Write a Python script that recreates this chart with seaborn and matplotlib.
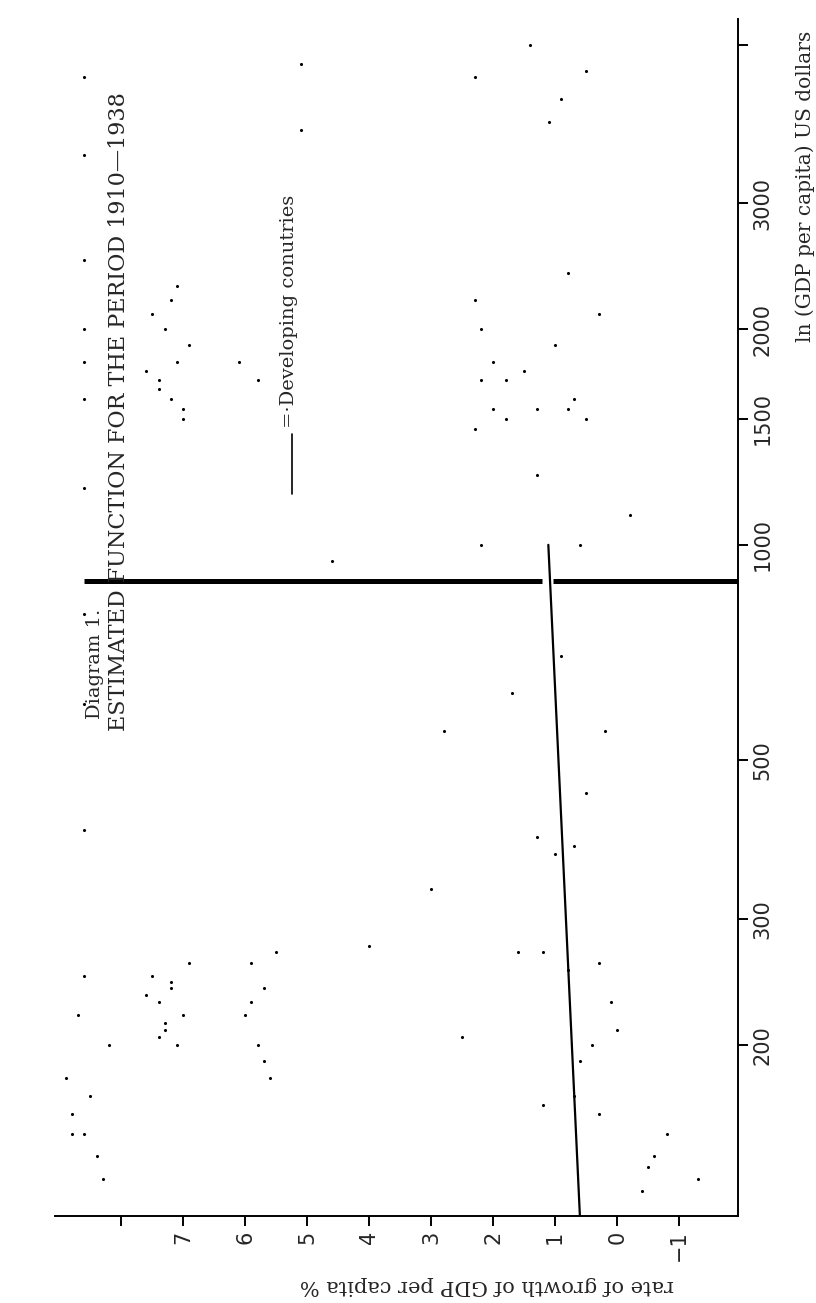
import numpy as np
import matplotlib
matplotlib.use("Agg")
import matplotlib.pyplot as plt
import seaborn as sns

# ---------------- data ----------------
# estimated function (growth % vs GDP per capita, log scale)
line_gdp = [115, 1000]
line_growth = [0.60, 1.11]

# heavy vertical rule in the scan (at about 890 $)
rule_gdp = [890, 890]
rule_upper = [8.6, 1.21]
rule_lower = [1.03, -1.95]

gdp_ticks = [200, 300, 500, 1000, 1500, 2000, 3000, 5000]
gdp_labels = ["200", "300", "500", "1000", "1500", "2000", "3000", ""]
growth_ticks = [8, 7, 6, 5, 4, 3, 2, 1, 0, -1]
growth_labels = ["", "7", "6", "5", "4", "3", "2", "1", "0", "\u22121"]

# specks of the scan (growth %, GDP $)
speck_growth = [2.3, 2.2, 2.0, 1.8, 1.5, 1.0, 0.8, 0.7, 1.3, 0.5, 2.0, 2.2, 2.3, 1.8,
                0.3, 0.8, 1.7, 0.9, 1.3, 1.0, 0.7, 1.6, 1.2, 0.8, 0.3, 0.1, 0.0, 0.4,
                0.6, 0.7, 0.3, 1.2, 2.5, 3.0, 4.0, 2.8, 0.5, 0.2, 0.6, -0.2,
                7.0, 7.2, 7.4, 7.1, 6.9, 7.3, 7.5, 7.2, 7.0, 7.4, 7.6, 7.1,
                7.1, 7.3, 7.0, 7.4, 7.2, 7.5, 6.9, 7.3, 7.6, 7.2, 7.4,
                5.6, 5.8, 6.0, 5.7, 5.9, 5.5, 5.8, 6.1, 5.7, 5.9,
                8.6, 8.6, 8.6, 8.6, 8.6, 8.6, 8.6, 8.6, 8.6, 8.6, 8.6, 8.6,
                8.3, 8.4, 8.8, 8.9, 8.2, 8.7, 8.5, 8.8,
                -0.4, -0.6, -0.8, -0.5, -1.3, 0.9, 0.5, 1.1, 1.4,
                5.1, 5.1, 2.3, 2.2, 1.3, 4.6]
speck_gdp = [2200, 2000, 1800, 1700, 1750, 1900, 1550, 1600, 1550, 1500, 1550, 1700, 1450, 1500,
             2100, 2400, 620, 700, 390, 370, 380, 270, 270, 255, 260, 230, 210, 200,
             190, 170, 160, 165, 205, 330, 275, 550, 450, 550, 1000, 1100,
             1500, 1600, 1700, 1800, 1900, 2000, 2100, 2200, 1550, 1650, 1750, 2300,
             200, 210, 220, 230, 240, 250, 260, 215, 235, 245, 205,
             180, 200, 220, 240, 260, 270, 1700, 1800, 190, 230,
             150, 250, 400, 600, 800, 1200, 1800, 2500, 3500, 4500, 2000, 1600,
             130, 140, 160, 180, 200, 220, 170, 150,
             125, 140, 150, 135, 130, 4200, 4600, 3900, 5000,
             4700, 3800, 4500, 1000, 1250, 950]

# ---------------- figure ----------------
sns.set_theme(style="white")
plt.rcParams["font.family"] = ["DejaVu Sans"]

fig = plt.figure(figsize=(8.16, 13.03), dpi=100)
ax = fig.add_axes([0.0674, 0.0668, 0.837, 0.9187])

sns.lineplot(x=line_growth, y=line_gdp, ax=ax, color="black", linewidth=1.6,
             sort=False, estimator=None)
ax.plot(rule_upper, rule_gdp, color="black", linewidth=3.6, solid_capstyle="butt")
ax.plot(rule_lower, rule_gdp, color="black", linewidth=3.6, solid_capstyle="butt")
sns.scatterplot(x=speck_growth, y=speck_gdp, ax=ax, color="black", s=5,
                linewidth=0, clip_on=False)

ax.set_yscale("log")
ax.set_ylim(115.4, 5431)
ax.set_xlim(9.07, -1.95)

for side in ["top", "left"]:
    ax.spines[side].set_visible(False)
for side in ["bottom", "right"]:
    ax.spines[side].set_color("black")
    ax.spines[side].set_linewidth(1.4)

ax.yaxis.tick_right()
ax.set_yticks(gdp_ticks)
ax.set_yticklabels(gdp_labels, rotation=90, va="center", fontsize=15)
ax.yaxis.set_minor_locator(matplotlib.ticker.NullLocator())
ax.set_xticks(growth_ticks)
ax.set_xticklabels(growth_labels, rotation=90, fontsize=15)
ax.tick_params(axis="both", direction="out", length=7.5, width=1.4, color="black",
               pad=3, bottom=True, right=True, left=False)

serif = ["DejaVu Serif"]
ax.text(0.6325, -0.058, "rate of growth of GDP per capita %", transform=ax.transAxes,
        rotation=180, ha="center", va="center", fontsize=15, family=serif)
ax.text(1.0985, 0.8605, "ln (GDP per capita) US dollars", transform=ax.transAxes,
        rotation=90, ha="center", va="center", fontsize=14.5, family=serif)

# title (rotated with the page)
ax.text(0.094, 0.405, "ESTIMATED FUNCTION FOR THE PERIOD 1910\u20141938",
        transform=ax.transAxes, rotation=90, ha="center", va="bottom",
        fontsize=16, family=serif)
ax.text(0.059, 0.415, "Diagram 1.", transform=ax.transAxes, rotation=90,
        ha="center", va="bottom", fontsize=14, family=serif)

# legend
ax.plot([0.347, 0.347], [0.603, 0.653], transform=ax.transAxes, color="black",
        linewidth=1.2)
ax.text(0.3426, 0.658, "=\u00b7Developing conutries", transform=ax.transAxes,
        rotation=90, ha="center", va="bottom", fontsize=14, family=serif)

fig.savefig("out.png", dpi=100, facecolor="white")
